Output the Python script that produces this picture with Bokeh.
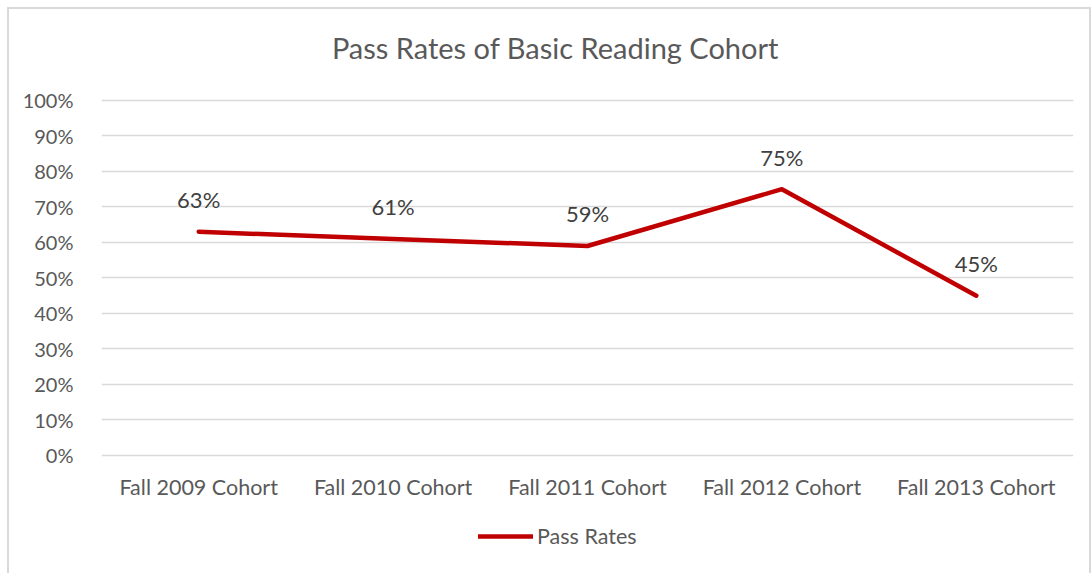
from bokeh.plotting import figure
from bokeh.models import ColumnDataSource, LabelSet, Label, Legend, LegendItem, NumeralTickFormatter, FixedTicker, Range1d
from bokeh.core.properties import value
from bokeh.embed import file_html
from bokeh.resources import INLINE

title_text = "Pass Rates of Basic Reading Cohort"
categories = ["Fall 2009 Cohort", "Fall 2010 Cohort", "Fall 2011 Cohort", "Fall 2012 Cohort", "Fall 2013 Cohort"]
pass_rates = [0.63, 0.61, 0.59, 0.75, 0.45]
label_texts = ["63%", "61%", "59%", "75%", "45%"]
y_ticks = [0, 0.1, 0.2, 0.3, 0.4, 0.5, 0.6, 0.7, 0.8, 0.9, 1.0]

FONT = "Lato"
GRAY = "#d9d9d9"
src = ColumnDataSource(dict(x=categories, y=pass_rates, t=label_texts))
cat_src = ColumnDataSource(dict(x=categories, y=[0] * len(categories), t=categories))

# frame spans the whole chart area so that title, category labels and legend live inside it
p = figure(width=1091, height=573, x_range=categories, y_range=Range1d(-0.31, 1.259),
           output_backend="svg", toolbar_location=None,
           min_border_left=101, min_border_right=18, min_border_top=8, min_border_bottom=8)
p.x_range.range_padding = 0
p.border_fill_color = None
p.background_fill_color = None
bg = (f"linear-gradient({GRAY},{GRAY}) 7px 7px / 1084px 2px no-repeat, "
      f"linear-gradient({GRAY},{GRAY}) 7px 7px / 2px 566px no-repeat, "
      f"linear-gradient({GRAY},{GRAY}) 1089px 7px / 2px 566px no-repeat, white")
p.styles = {"background": bg}
p.outline_line_color = None

title = Label(x=2.335, y=1.149, text=title_text, text_align="center", text_baseline="middle",
              text_font=FONT, text_font_size="29px", text_color="#595959")
p.add_layout(title)

r = p.line("x", "y", source=src, line_color="#C00000", line_width=4.5, line_cap="round", line_join="round")

labels = LabelSet(x="x", y="y", text="t", source=src, y_offset=32, text_align="center",
                  text_baseline="middle", text_font=value(FONT), text_font_size="22px",
                  text_color="#404040")
p.add_layout(labels)

cat_labels = LabelSet(x="x", y="y", text="t", source=cat_src, y_offset=-32, text_align="center",
                      text_baseline="middle", text_font=value(FONT), text_font_size="21.5px",
                      text_color="#595959")
p.add_layout(cat_labels)

p.xaxis.visible = False
p.yaxis.ticker = FixedTicker(ticks=y_ticks)
p.yaxis.formatter = NumeralTickFormatter(format="0%")
p.yaxis.axis_line_color = None
p.yaxis.major_tick_line_color = None
p.yaxis.minor_tick_line_color = None
p.yaxis.major_label_text_font = FONT
p.yaxis.major_label_text_color = "#595959"
p.yaxis.major_label_text_font_size = "20px"
p.yaxis.major_label_standoff = 22
p.xgrid.grid_line_color = None
p.ygrid.grid_line_color = GRAY
p.ygrid.grid_line_width = 1.5

legend = Legend(items=[LegendItem(label="Pass Rates", renderers=[r])], orientation="horizontal",
                location=(377, 16), border_line_color=None, background_fill_alpha=0,
                label_text_font=FONT, label_text_font_size="21.5px", label_text_color="#595959",
                glyph_width=55, glyph_height=22, label_height=22, label_standoff=4, margin=0, padding=0)
p.add_layout(legend)

open("out.html", "w").write(file_html(p, INLINE))
